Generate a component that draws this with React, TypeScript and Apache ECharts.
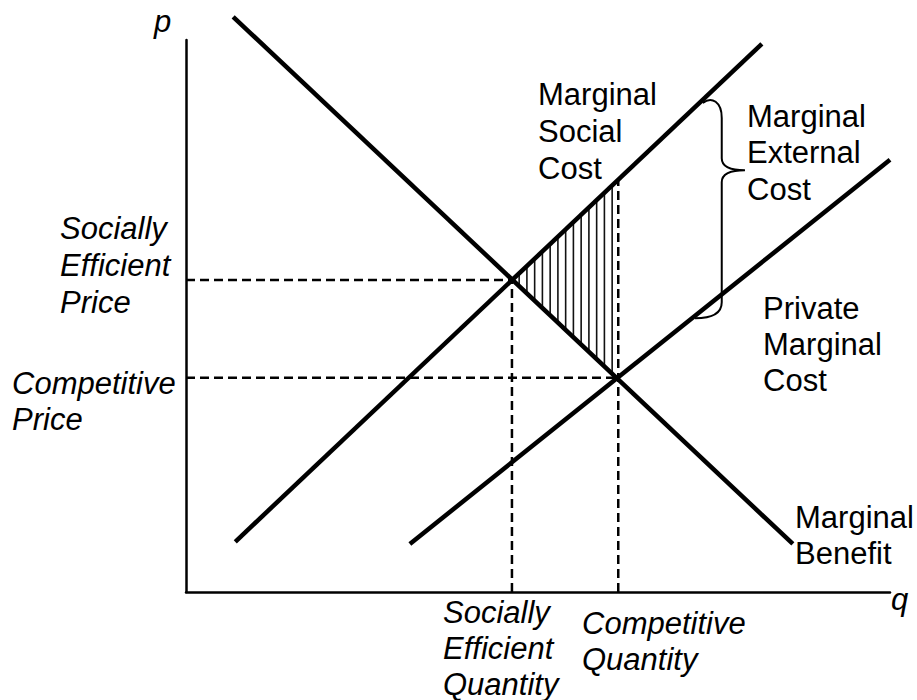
import React, { useEffect, useRef } from "react";
import * as echarts from "echarts";

// Curves (q, p) in chart units: q 0..100 along the horizontal axis, p 0..100 up the vertical axis
const marginalBenefit = [[6.7, 104.2], [86.2, 8.7]];
const marginalSocialCost = [[7.0, 9.1], [81.8, 99.3]];
const privateMarginalCost = [[31.8, 8.7], [100, 78.3]];

// Equilibria
const efficientPoint = [46.3, 56.5]; // MSC = MB
const competitivePoint = [61.4, 38.8]; // PMC = MB
const mscAtCompetitiveQ = 74.6;

// Brace (marginal external cost) anchors in chart units
const braceTop = [73.4, 88.6];
const braceBottom = [72.3, 49.6];
const braceTip = [79.4, 76.4];
const braceSpineQ = 76.1;

const FONT = '"Liberation Sans", Arial, Helvetica, sans-serif';

type Lbl = { text: string; x: number; y: number; lh: number; italic?: boolean };
const labels: Lbl[] = [
  { text: "p", x: 154, y: 2.5, lh: 37, italic: true },
  { text: "q", x: 891, y: 580.5, lh: 37, italic: true },
  { text: "Socially\nEfficient\nPrice", x: 60, y: 209.5, lh: 37, italic: true },
  { text: "Competitive\nPrice", x: 12, y: 365, lh: 36, italic: true },
  { text: "Marginal\nSocial\nCost", x: 538, y: 75.5, lh: 37 },
  { text: "Marginal\nExternal\nCost", x: 747, y: 97.75, lh: 36.5 },
  { text: "Private\nMarginal\nCost", x: 763, y: 290, lh: 36 },
  { text: "Marginal\nBenefit", x: 795, y: 499, lh: 36 },
  { text: "Socially\nEfficient\nQuantity", x: 443, y: 594, lh: 36, italic: true },
  { text: "Competitive\nQuantity", x: 582, y: 605, lh: 36, italic: true },
];

export default function App() {
  const ref = useRef<HTMLDivElement>(null);

  useEffect(() => {
    if (!ref.current) return;
    const chart = echarts.init(ref.current, undefined, { renderer: "svg" });

    const solid = (data: number[][]) => ({
      type: "line",
      data,
      symbol: "none",
      clip: false,
      silent: true,
      z: 5,
      lineStyle: { color: "#000", width: 4.5, cap: "butt" },
    });
    const dashed = (data: number[][]) => ({
      type: "line",
      data,
      symbol: "none",
      clip: false,
      silent: true,
      z: 3,
      lineStyle: { color: "#000", width: 2.5, type: [9, 5] },
    });

    const option: any = {
      animation: false,
      backgroundColor: "#fff",
      grid: { left: 186, top: 40, width: 704, height: 552 },
      xAxis: {
        type: "value",
        min: 0,
        max: 100,
        axisLine: { show: true, lineStyle: { color: "#000", width: 2.5 } },
        axisTick: { show: false },
        axisLabel: { show: false },
        splitLine: { show: false },
      },
      yAxis: {
        type: "value",
        min: 0,
        max: 100,
        axisLine: { show: true, lineStyle: { color: "#000", width: 2.5 } },
        axisTick: { show: false },
        axisLabel: { show: false },
        splitLine: { show: false },
      },
      series: [
        dashed([[0, efficientPoint[1]], [efficientPoint[0], efficientPoint[1]]]),
        dashed([[0, competitivePoint[1]], [competitivePoint[0], competitivePoint[1]]]),
        dashed([[efficientPoint[0], 0], [efficientPoint[0], efficientPoint[1]]]),
        dashed([[competitivePoint[0], 0], [competitivePoint[0], mscAtCompetitiveQ]]),
        {
          type: "custom",
          silent: true,
          z: 4,
          data: [[efficientPoint[0], efficientPoint[1]]],
          renderItem: (_params: any, api: any) => {
            const a = api.coord(efficientPoint);
            const t = api.coord([competitivePoint[0], mscAtCompetitiveQ]);
            const b = api.coord(competitivePoint);
            const children: any[] = [];
            const step = 7.75;
            for (let x = a[0] + 7.2; x < b[0] - 3; x += step) {
              const f = (x - a[0]) / (b[0] - a[0]);
              const yTop = a[1] + (t[1] - a[1]) * f;
              const yBot = a[1] + (b[1] - a[1]) * f;
              children.push({
                type: "line",
                shape: { x1: x, y1: yTop, x2: x, y2: yBot },
                style: { stroke: "#111", lineWidth: 1.6 },
              });
            }
            return { type: "group", children };
          },
        },
        {
          type: "custom",
          silent: true,
          z: 6,
          data: [[braceSpineQ, braceTip[1]]],
          renderItem: (_params: any, api: any) => {
            const t0 = api.coord(braceTop);
            const b0 = api.coord(braceBottom);
            const tip = api.coord(braceTip);
            const s = api.coord([braceSpineQ, 0])[0];
            const d =
              `M${t0[0]},${t0[1]} ` +
              `C${t0[0] + 9},${t0[1] - 7} ${s},${t0[1] - 1} ${s},${t0[1] + 15} ` +
              `L${s},${tip[1] - 12} ` +
              `Q${s},${tip[1]} ${tip[0]},${tip[1]} ` +
              `Q${s},${tip[1]} ${s},${tip[1] + 12} ` +
              `L${s},${b0[1] - 16} ` +
              `C${s},${b0[1] - 2} ${b0[0] + 12},${b0[1]} ${b0[0]},${b0[1]}`;
            return {
              type: "path",
              shape: { pathData: d },
              style: { stroke: "#000", lineWidth: 2, fill: "none" },
            };
          },
        },
        solid(marginalBenefit),
        solid(marginalSocialCost),
        solid(privateMarginalCost),
      ],
      graphic: labels.map((l) => ({
        type: "text",
        x: l.x,
        y: l.y,
        z: 10,
        silent: true,
        style: {
          text: l.text,
          fill: "#000",
          fontSize: 31,
          fontFamily: FONT,
          fontStyle: l.italic ? "italic" : "normal",
          lineHeight: l.lh,
          align: "left",
          verticalAlign: "top",
        },
      })),
    };

    chart.setOption(option);
    return () => chart.dispose();
  }, []);

  return (
    <div
      ref={ref}
      style={{ position: "fixed", left: 0, top: 0, width: 917, height: 700, background: "#fff" }}
    />
  );
}
